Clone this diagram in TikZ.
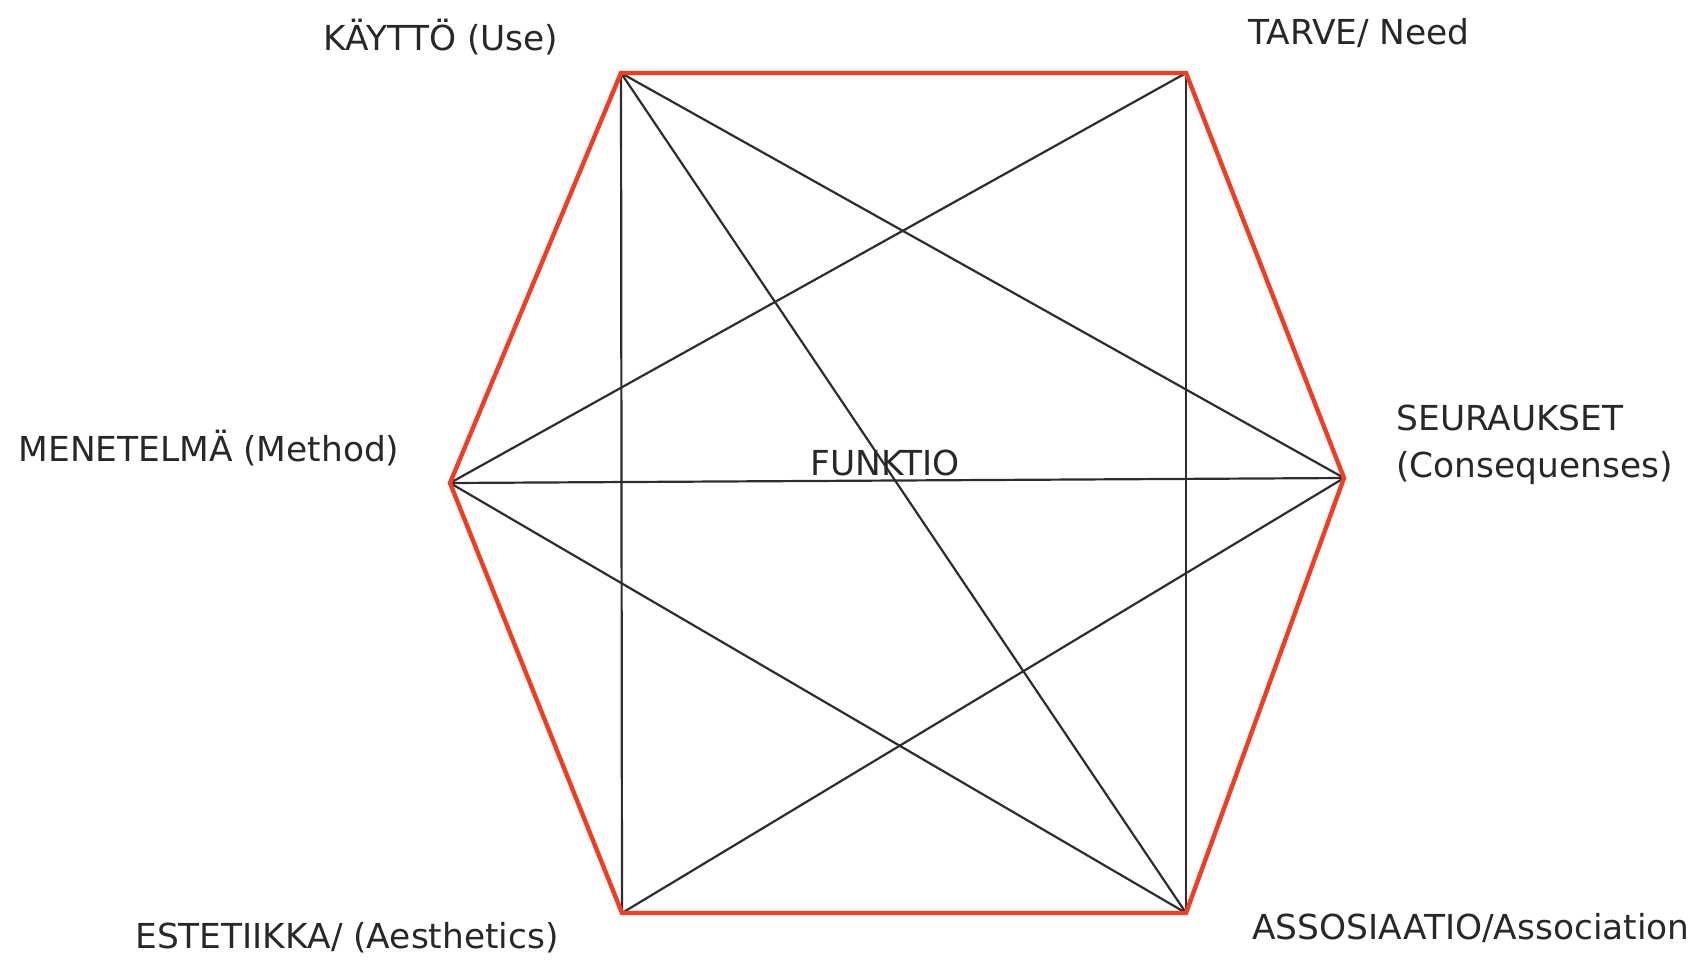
\documentclass[tikz,border=0pt]{standalone}
\usepackage{fontspec}
\setmainfont{DejaVu Sans}
\definecolor{hexred}{RGB}{240,62,36}
\definecolor{linegray}{RGB}{45,45,45}
\definecolor{txtgray}{RGB}{40,40,40}
\begin{document}
\begin{tikzpicture}[x=0.5pt,y=-0.5pt,
  lbl/.style={font=\fontsize{17.2}{23.5}\selectfont, text=txtgray, inner sep=0pt},
  redge/.style={draw=hexred, line width=2.2pt, line join=miter},
  blink/.style={draw=linegray, line width=1.1pt}]
\useasboundingbox (0,0) rectangle (1706,964);
\coordinate (K) at (621,73);
\coordinate (T) at (1186,73);
\coordinate (S) at (1344,478);
\coordinate (A) at (1186,913);
\coordinate (E) at (622,913);
\coordinate (M) at (450,483);
% black connectors
\draw[blink] (K) -- (E);
\draw[blink] (K) -- (A);
\draw[blink] (K) -- (S);
\draw[blink] (T) -- (M);
\draw[blink] (T) -- (A);
\draw[blink] (M) -- (S);
\draw[blink] (M) -- (A);
\draw[blink] (S) -- (E);
% red hexagon
\draw[redge] (K) -- (T) -- (S) -- (A) -- (E) -- (M) -- cycle;
% labels
\node[lbl] (lK) at (441,37) {KÄYTTÖ (Use)};
\node[lbl] (lT) at (1359,33) {TARVE/ Need};
\node[lbl] (lM) at (209,448) {MENETELMÄ (Method)};
\node[lbl, anchor=west, align=left] (lS) at (1396,445) {SEURAUKSET\\(Consequenses)};
\node[lbl] (lE) at (347,938) {ESTETIIKKA/ (Aesthetics)};
\node[lbl] (lA) at (1471,928) {ASSOSIAATIO/Association};
\node[lbl] (lF) at (885,463) {FUNKTIO};
\end{tikzpicture}
\end{document}
